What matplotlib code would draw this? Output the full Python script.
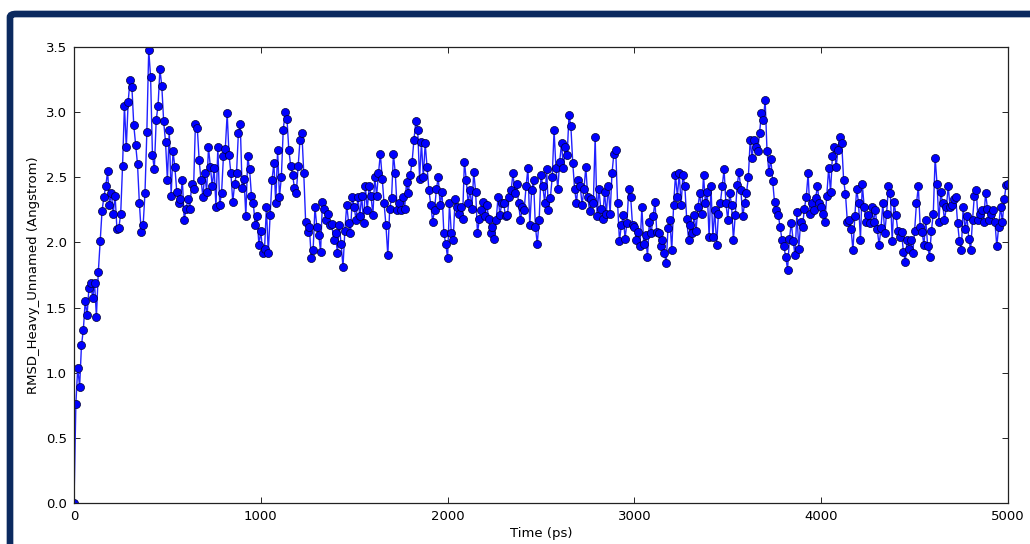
import numpy as np
import matplotlib
matplotlib.use("Agg")
import matplotlib.pyplot as plt
from matplotlib.patches import FancyBboxPatch

# RMSD, one value every 10 ps (0 .. 5000 ps)
rmsd = [
    0.00, 0.76, 1.04, 0.89, 1.21, 1.33, 1.55, 1.44, 1.65, 1.69,
    1.57, 1.69, 1.43, 1.77, 2.01, 2.24, 2.35, 2.43, 2.55, 2.29,
    2.38, 2.22, 2.36, 2.10, 2.11, 2.22, 2.59, 3.05, 2.73, 3.08,
    3.25, 3.19, 2.90, 2.75, 2.60, 2.30, 2.08, 2.13, 2.38, 2.85,
    3.48, 3.27, 2.67, 2.56, 2.94, 3.05, 3.33, 3.20, 2.93, 2.77,
    2.48, 2.86, 2.36, 2.70, 2.58, 2.39, 2.30, 2.33, 2.48, 2.17,
    2.26, 2.33, 2.26, 2.45, 2.41, 2.91, 2.88, 2.63, 2.48, 2.35,
    2.53, 2.39, 2.73, 2.58, 2.43, 2.57, 2.27, 2.73, 2.29, 2.38,
    2.66, 2.72, 2.99, 2.67, 2.53, 2.31, 2.45, 2.53, 2.84, 2.91,
    2.42, 2.49, 2.20, 2.66, 2.56, 2.36, 2.30, 2.13, 2.20, 1.98,
    2.09, 1.92, 1.95, 2.27, 1.92, 2.21, 2.48, 2.61, 2.30, 2.71,
    2.35, 2.50, 2.86, 3.00, 2.95, 2.71, 2.59, 2.52, 2.42, 2.38,
    2.59, 2.79, 2.84, 2.53, 2.16, 2.08, 2.12, 1.88, 1.94, 2.27,
    2.12, 2.06, 1.93, 2.31, 2.26, 2.17, 2.22, 2.13, 2.14, 2.02,
    2.07, 1.92, 2.13, 1.99, 1.81, 2.09, 2.29, 2.15, 2.07, 2.35,
    2.27, 2.17, 2.35, 2.20, 2.36, 2.15, 2.43, 2.25, 2.43, 2.36,
    2.21, 2.50, 2.36, 2.53, 2.68, 2.49, 2.30, 2.13, 1.90, 2.26,
    2.34, 2.68, 2.53, 2.25, 2.30, 2.25, 2.35, 2.26, 2.46, 2.38,
    2.52, 2.62, 2.79, 2.93, 2.86, 2.49, 2.77, 2.50, 2.76, 2.58,
    2.40, 2.29, 2.16, 2.25, 2.41, 2.50, 2.29, 2.39, 2.07, 1.99,
    1.88, 2.30, 2.07, 2.02, 2.33, 2.27, 2.22, 2.27, 2.18, 2.62,
    2.48, 2.30, 2.40, 2.26, 2.54, 2.39, 2.07, 2.18, 2.25, 2.31,
    2.20, 2.29, 2.18, 2.07, 2.12, 2.03, 2.17, 2.35, 2.21, 2.30,
    2.30, 2.20, 2.21, 2.35, 2.40, 2.53, 2.38, 2.45, 2.30, 2.17,
    2.27, 2.25, 2.43, 2.57, 2.13, 2.40, 2.48, 2.12, 1.99, 2.17,
    2.52, 2.43, 2.30, 2.56, 2.25, 2.34, 2.50, 2.86, 2.57, 2.41,
    2.62, 2.76, 2.57, 2.73, 2.67, 2.98, 2.89, 2.61, 2.41, 2.30,
    2.48, 2.43, 2.29, 2.41, 2.58, 2.35, 2.24, 2.33, 2.30, 2.81,
    2.20, 2.41, 2.26, 2.18, 2.39, 2.22, 2.43, 2.22, 2.53, 2.68,
    2.71, 2.30, 2.01, 2.13, 2.21, 2.03, 2.15, 2.41, 2.35, 2.13,
    2.12, 2.02, 2.08, 1.97, 2.27, 1.99, 2.06, 1.89, 2.16, 2.07,
    2.20, 2.31, 2.08, 2.07, 1.97, 2.02, 1.92, 1.84, 2.11, 2.17,
    1.94, 2.29, 2.52, 2.35, 2.53, 2.29, 2.52, 2.43, 2.18, 2.02,
    2.13, 2.07, 2.21, 2.09, 2.27, 2.38, 2.22, 2.52, 2.30, 2.39,
    2.04, 2.43, 2.04, 2.25, 1.98, 2.22, 2.30, 2.43, 2.56, 2.30,
    2.17, 2.38, 2.29, 2.02, 2.21, 2.44, 2.54, 2.40, 2.20, 2.30,
    2.38, 2.50, 2.79, 2.65, 2.79, 2.73, 2.70, 2.84, 2.99, 2.94,
    3.09, 2.70, 2.54, 2.64, 2.47, 2.31, 2.25, 2.21, 2.12, 2.02,
    1.97, 1.89, 1.79, 2.03, 2.15, 2.01, 1.90, 2.23, 1.95, 2.16,
    2.12, 2.26, 2.35, 2.53, 2.22, 2.30, 2.25, 2.34, 2.43, 2.30,
    2.27, 2.22, 2.16, 2.36, 2.57, 2.39, 2.66, 2.73, 2.58, 2.71,
    2.81, 2.76, 2.48, 2.37, 2.16, 2.17, 2.10, 1.94, 2.20, 2.41,
    2.30, 2.02, 2.45, 2.27, 2.16, 2.21, 2.15, 2.27, 2.16, 2.25,
    2.10, 1.98, 2.11, 2.30, 2.07, 2.22, 2.43, 2.38, 2.01, 2.31,
    2.21, 2.09, 2.04, 2.08, 1.93, 1.85, 2.02, 1.95, 2.02, 1.92,
    2.09, 2.30, 2.43, 2.12, 2.08, 1.98, 2.17, 1.97, 1.89, 2.09,
    2.22, 2.65, 2.45, 2.16, 2.39, 2.30, 2.17, 2.27, 2.43, 2.27,
    2.29, 2.33, 2.35, 2.15, 2.01, 1.94, 2.27, 2.10, 2.20, 2.03,
    1.94, 2.17, 2.36, 2.40, 2.17, 2.22, 2.25, 2.16, 2.38, 2.26,
    2.17, 2.22, 2.25, 2.16, 1.97, 2.12, 2.27, 2.16, 2.33, 2.44,
    2.45,
]
time_ps = np.arange(len(rmsd)) * 10

xticks = [0, 1000, 2000, 3000, 4000, 5000]
yticks = [0.0, 0.5, 1.0, 1.5, 2.0, 2.5, 3.0, 3.5]

fig = plt.figure(figsize=(10.30, 5.44), dpi=100, facecolor="white")

# dark navy frame around the panel (top + left edges visible)
frame = FancyBboxPatch((10 / 1030, -0.2), 1.2, 1.2 - 14 / 544,
                       boxstyle="round,pad=0,rounding_size=0.006",
                       transform=fig.transFigure, facecolor="none",
                       edgecolor="#0b2a5f", linewidth=4.8, zorder=0)
fig.patches.append(frame)

ax = fig.add_axes([74 / 1030, 1 - 503 / 544, (1008 - 74) / 1030, (503 - 47) / 544])
ax.plot(time_ps, rmsd, color="#2020ff", linewidth=1.0,
        marker="o", markersize=5.8, markerfacecolor="#0000ff",
        markeredgecolor="#000033", markeredgewidth=0.5)

ax.set_xlim(0, 5000)
ax.set_ylim(0, 3.5)
ax.set_xticks(xticks)
ax.set_yticks(yticks)
ax.set_yticklabels(["%.1f" % v for v in yticks])
ax.tick_params(direction="in", top=True, right=True, length=4,
               width=0.6, labelsize=9.5, pad=5)
for s in ax.spines.values():
    s.set_linewidth(0.9)
    s.set_color("#222222")
ax.set_xlabel("Time (ps)", fontsize=9.5, labelpad=3)
ax.set_ylabel("RMSD_Heavy_Unnamed (Angstrom)", fontsize=9.5, labelpad=4)

fig.savefig("out.png", dpi=100, facecolor="white")
